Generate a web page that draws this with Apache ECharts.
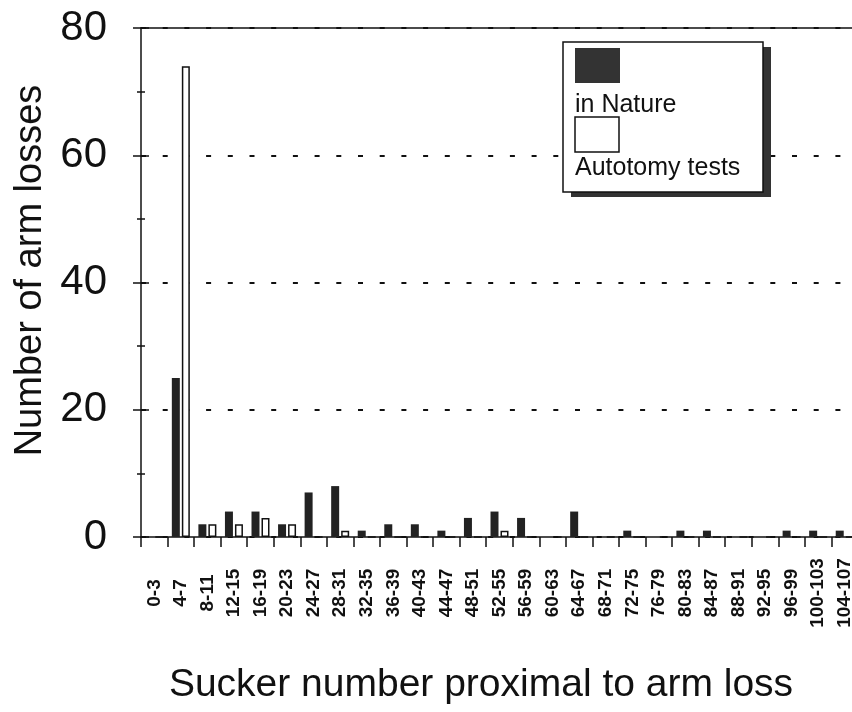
<!DOCTYPE html>
<html>
<head>
<meta charset="utf-8">
<script src="https://cdn.jsdelivr.net/npm/echarts@6/dist/echarts.min.js"></script>
<style>
  html, body { margin: 0; padding: 0; background: #fff; }
  #main { width: 852px; height: 712px; }
</style>
</head>
<body>
<div id="main"></div>
<script>
// sucker-number bins
var categories = ['0-3', '4-7', '8-11', '12-15', '16-19', '20-23', '24-27', '28-31', '32-35',
    '36-39', '40-43', '44-47', '48-51', '52-55', '56-59', '60-63', '64-67', '68-71', '72-75',
    '76-79', '80-83', '84-87', '88-91', '92-95', '96-99', '100-103', '104-107'];
var natureValues = [0, 25, 2, 4, 4, 2, 7, 8, 1, 2, 2, 1, 3, 4, 3, 0, 4, 0, 1, 0, 1, 1, 0, 0, 1, 1, 1];
var autotomyValues = [0, 74, 2, 2, 3, 2, 0, 1, 0, 0, 0, 0, 0, 1, 0, 0, 0, 0, 0, 0, 0, 0, 0, 0, 0, 0, 0];
var yTicks = [0, 20, 40, 60, 80];

var FONT = '"Liberation Sans", Arial, Helvetica, sans-serif';
var chart = echarts.init(document.getElementById('main'));

chart.setOption({
    backgroundColor: '#fff',
    animation: false,
    grid: { left: 141, top: 28, right: -6, bottom: 175, outerBoundsMode: 'none', containLabel: false },
    xAxis: [{
        type: 'category',
        data: categories,
        boundaryGap: true,
        name: 'Sucker number proximal to arm loss',
        nameLocation: 'middle',
        nameGap: 129,
        nameTextStyle: { fontFamily: FONT, fontSize: 39, color: '#111', padding: [0, 37, 0, 0] },
        axisLine: { onZero: false, lineStyle: { color: '#111', width: 1.5 } },
        axisTick: { show: true, length: 10, interval: 0, lineStyle: { color: '#111', width: 1.5 } },
        axisLabel: {
            interval: 0, rotate: 90, margin: 56, align: 'center', verticalAlign: 'middle',
            fontFamily: FONT, fontSize: 19, fontWeight: 'bold', color: '#111'
        },
        splitLine: { show: false }
    }, {
        type: 'category',
        position: 'top',
        data: categories,
        axisLine: { show: true, onZero: false, lineStyle: { color: '#111', width: 1.5 } },
        axisTick: { show: false },
        axisLabel: { show: false }
    }],
    yAxis: [{
        type: 'value',
        min: yTicks[0],
        max: yTicks[yTicks.length - 1],
        interval: 20,
        name: 'Number of arm losses',
        nameLocation: 'middle',
        nameGap: 88,
        nameTextStyle: { fontFamily: FONT, fontSize: 38, color: '#111', padding: [0, 0, 0, 24] },
        axisLine: { show: true, lineStyle: { color: '#111', width: 1.5 } },
        axisTick: { show: true, length: 8, lineStyle: { color: '#111', width: 1.5 } },
        minorTick: { show: true, splitNumber: 2, length: 4, lineStyle: { color: '#111', width: 1.5 } },
        axisLabel: { fontFamily: FONT, fontSize: 42, color: '#111', margin: 34 },
        splitLine: { show: true, lineStyle: { color: '#111', width: 2, type: [5, 16.7] } }
    }, {
        // inside ticks so the marks cross the axis line
        type: 'value',
        position: 'left',
        offset: 0,
        min: yTicks[0],
        max: yTicks[yTicks.length - 1],
        interval: 20,
        axisLine: { show: false },
        axisTick: { show: true, inside: true, length: 8, lineStyle: { color: '#111', width: 1.5 } },
        minorTick: { show: true, splitNumber: 2, length: 4, lineStyle: { color: '#111', width: 1.5 } },
        axisLabel: { show: false },
        splitLine: { show: false }
    }],
    series: [{
        name: 'in Nature',
        type: 'bar',
        data: natureValues,
        barWidth: 8,
        barGap: '25%',
        itemStyle: { color: '#222' }
    }, {
        name: 'Autotomy tests',
        type: 'bar',
        data: autotomyValues,
        barWidth: 8,
        itemStyle: { color: '#fff', borderColor: '#111', borderWidth: 1.5 }
    }],
    graphic: [
        // legend box with drop shadow
        { type: 'rect', shape: { x: 571, y: 47, width: 200, height: 150 }, style: { fill: '#333' }, z: 100 },
        { type: 'rect', shape: { x: 563, y: 42, width: 200, height: 150 }, style: { fill: '#fff', stroke: '#111', lineWidth: 1.5 }, z: 101 },
        { type: 'rect', shape: { x: 575, y: 48, width: 45, height: 35 }, style: { fill: '#333' }, z: 102 },
        { type: 'text', x: 575, y: 105, style: { text: 'in Nature', fontFamily: FONT, fontSize: 25, fill: '#111', verticalAlign: 'middle' }, z: 102 },
        { type: 'rect', shape: { x: 575, y: 117, width: 44, height: 35 }, style: { fill: '#fff', stroke: '#111', lineWidth: 1.5 }, z: 102 },
        { type: 'text', x: 575, y: 168, style: { text: 'Autotomy tests', fontFamily: FONT, fontSize: 25, fill: '#111', verticalAlign: 'middle' }, z: 102 }
    ]
});
</script>
</body>
</html>
